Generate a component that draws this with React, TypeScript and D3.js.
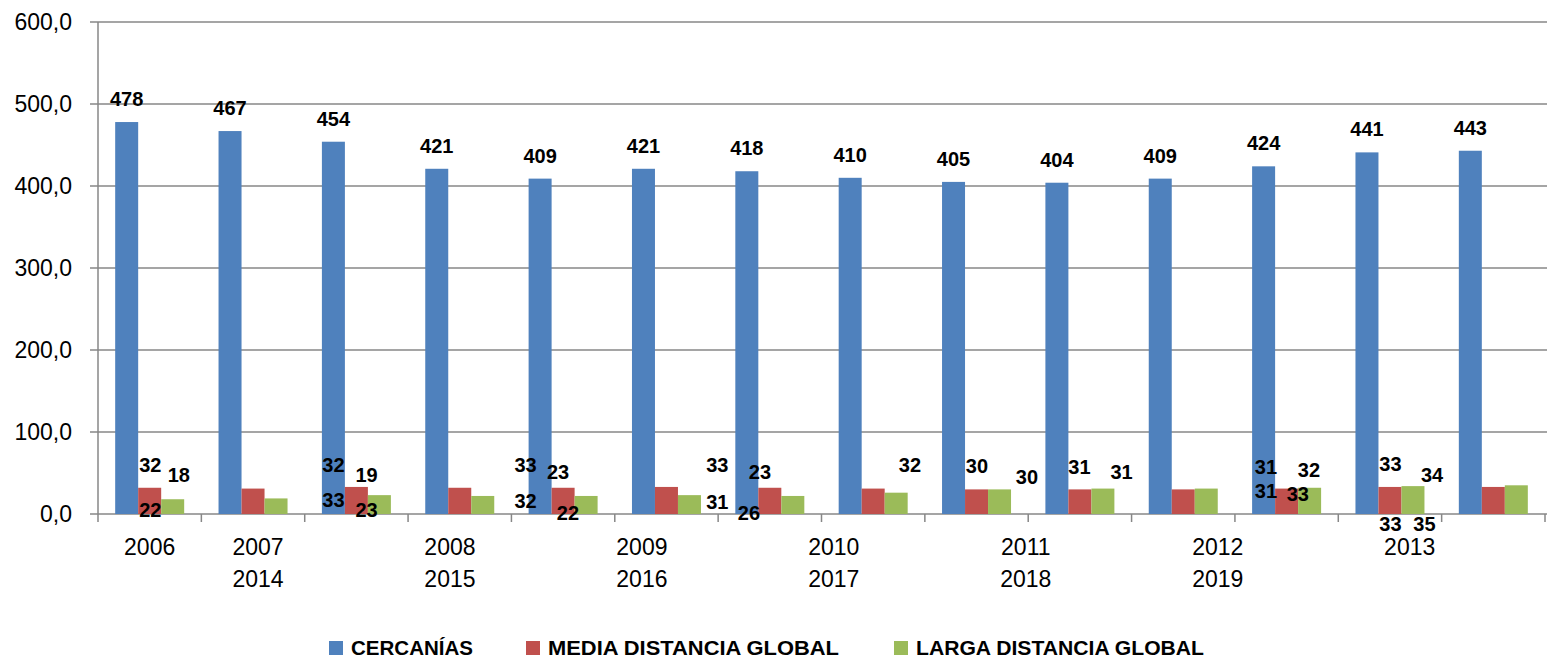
import { useEffect, useRef } from 'react';
import * as d3 from 'd3';

const years = ['2006', '2007', '2008', '2009', '2010', '2011', '2012', '2013', '2014', '2015', '2016', '2017', '2018', '2019'];
const cercanias = [478, 467, 454, 421, 409, 421, 418, 410, 405, 404, 409, 424, 441, 443];
const mediaDistancia = [32, 31, 33, 32, 32, 33, 32, 31, 30, 30, 30, 31, 33, 33];
const largaDistancia = [18, 19, 23, 22, 22, 23, 22, 26, 30, 31, 31, 32, 34, 35];

const seriesNames = ['CERCANÍAS', 'MEDIA DISTANCIA GLOBAL', 'LARGA DISTANCIA GLOBAL'];
const seriesColors = ['#4F81BD', '#C0504D', '#9BBB59'];

const yTicks = [0, 100, 200, 300, 400, 500, 600];

// category labels sit on two rows, the way the original axis shows them
const axisRowTop = ['2006', '2007', '2008', '2009', '2010', '2011', '2012', '2013'];
const axisRowBottom = ['', '2014', '2015', '2016', '2017', '2018', '2019', ''];

// labels of the two small series, left scattered around the bars
// slot: 0 = blue bar, 1 = red, 2 = green (fractions between); level in chart units
const looseLabels = [
  { text: '32', year: '2006', slot: 1.03, level: 60 },
  { text: '18', year: '2006', slot: 2.27, level: 48 },
  { text: '22', year: '2006', slot: 1.03, level: 5 },
  { text: '32', year: '2008', slot: 0, level: 60 },
  { text: '19', year: '2008', slot: 1.44, level: 48 },
  { text: '33', year: '2008', slot: 0, level: 16.5 },
  { text: '23', year: '2008', slot: 1.44, level: 5 },
  { text: '33', year: '2010', slot: -0.63, level: 60 },
  { text: '23', year: '2010', slot: 0.78, level: 51.6 },
  { text: '32', year: '2010', slot: -0.63, level: 15.9 },
  { text: '22', year: '2010', slot: 1.21, level: 1.8 },
  { text: '33', year: '2012', slot: -1.28, level: 60 },
  { text: '31', year: '2012', slot: -1.28, level: 15.2 },
  { text: '23', year: '2012', slot: 0.57, level: 51.6 },
  { text: '26', year: '2012', slot: 0.09, level: 1.2 },
  { text: '32', year: '2013', slot: 2.6, level: 60 },
  { text: '30', year: '2014', slot: 1.02, level: 58.5 },
  { text: '30', year: '2015', slot: -1.3, level: 45.7 },
  { text: '31', year: '2015', slot: 0.98, level: 57.3 },
  { text: '31', year: '2015', slot: 2.81, level: 51.6 },
  { text: '31', year: '2017', slot: 0.1, level: 57.3 },
  { text: '31', year: '2017', slot: 0.1, level: 28.3 },
  { text: '32', year: '2017', slot: 1.97, level: 53.7 },
  { text: '33', year: '2017', slot: 1.49, level: 25 },
  { text: '33', year: '2018', slot: 1.02, level: 61 },
  { text: '34', year: '2018', slot: 2.83, level: 47.6 },
  { text: '33', year: '2018', slot: 1.02, level: -12.8 },
  { text: '35', year: '2018', slot: 2.5, level: -12.8 },
];

const FONT = "'Liberation Sans', Arial, sans-serif";

const App = () => {
  const chartRef = useRef<SVGSVGElement | null>(null);

  useEffect(() => {
    const width = 1547;
    const height = 661;
    const plot = { left: 98, right: 1545, top: 22, bottom: 514 };
    const gridColor = '#878787';

    const svg = d3.select(chartRef.current);
    svg.selectAll('*').remove();
    svg.attr('width', width).attr('height', height);

    const x = d3.scaleBand().domain(years).range([plot.left, plot.right]);
    const x1 = d3
      .scaleBand()
      .domain(seriesNames)
      .range([0, x.bandwidth()])
      .paddingInner(0)
      .paddingOuter(0.747);
    const y = d3.scaleLinear().domain([0, 600]).range([plot.bottom, plot.top]);

    // gridlines + left tick stubs
    svg
      .append('g')
      .selectAll('line')
      .data(yTicks)
      .enter()
      .append('line')
      .attr('x1', plot.left - 8)
      .attr('x2', width)
      .attr('y1', (d) => y(d))
      .attr('y2', (d) => y(d))
      .attr('stroke', gridColor)
      .attr('stroke-width', 1.3);

    // y labels
    svg
      .append('g')
      .selectAll('text')
      .data(yTicks)
      .enter()
      .append('text')
      .attr('x', 72)
      .attr('y', (d) => y(d))
      .attr('dy', '0.35em')
      .attr('text-anchor', 'end')
      .style('font-family', FONT)
      .style('font-size', '23px')
      .attr('fill', '#000')
      .text((d) => d3.format('.1f')(d).replace('.', ','));

    // bars
    const allSeries = [cercanias, mediaDistancia, largaDistancia];
    allSeries.forEach((values, si) => {
      svg
        .append('g')
        .selectAll('rect')
        .data(values)
        .enter()
        .append('rect')
        .attr('x', (_, i) => x(years[i])! + x1(seriesNames[si])!)
        .attr('y', (d) => y(d))
        .attr('width', x1.bandwidth())
        .attr('height', (d) => y(0) - y(d))
        .attr('fill', seriesColors[si]);
    });

    // axes lines
    svg
      .append('line')
      .attr('x1', plot.left)
      .attr('x2', plot.left)
      .attr('y1', plot.top)
      .attr('y2', plot.bottom)
      .attr('stroke', gridColor)
      .attr('stroke-width', 1.5);

    const boundaries = years.map((yr) => x(yr)!).concat([plot.right]);
    svg
      .append('g')
      .selectAll('line')
      .data(boundaries)
      .enter()
      .append('line')
      .attr('x1', (d) => d)
      .attr('x2', (d) => d)
      .attr('y1', plot.bottom)
      .attr('y2', plot.bottom + 8)
      .attr('stroke', gridColor)
      .attr('stroke-width', 1.5);

    // two-row category labels
    const catPos = d3.scaleLinear().domain([0, years.length]).range([plot.left, plot.right]);
    const labelAt = (i: number) => (i === 0 ? catPos(0.5) : catPos(1.548 + ((i - 1) * 13) / 7));
    [axisRowTop, axisRowBottom].forEach((row, r) => {
      svg
        .append('g')
        .selectAll('text')
        .data(row)
        .enter()
        .append('text')
        .attr('x', (_, i) => labelAt(i))
        .attr('y', r === 0 ? 547 : 579)
        .attr('dy', '0.35em')
        .attr('text-anchor', 'middle')
        .style('font-family', FONT)
        .style('font-size', '23px')
        .attr('fill', '#000')
        .text((d) => d);
    });

    // value labels on the blue bars
    svg
      .append('g')
      .selectAll('text')
      .data(cercanias)
      .enter()
      .append('text')
      .attr('x', (_, i) => x(years[i])! + x1(seriesNames[0])! + x1.bandwidth() / 2)
      .attr('y', (d) => y(d) - 23)
      .attr('dy', '0.35em')
      .attr('text-anchor', 'middle')
      .style('font-family', FONT)
      .style('font-size', '20px')
      .style('font-weight', 'bold')
      .attr('fill', '#000')
      .text((d) => d);

    // scattered labels for the small series
    const slotX = (year: string, slot: number) =>
      x(year)! + x1(seriesNames[0])! + x1.step() * (slot + 0.5);
    svg
      .append('g')
      .selectAll('text')
      .data(looseLabels)
      .enter()
      .append('text')
      .attr('x', (d) => slotX(d.year, d.slot))
      .attr('y', (d) => y(d.level))
      .attr('dy', '0.35em')
      .attr('text-anchor', 'middle')
      .style('font-family', FONT)
      .style('font-size', '20px')
      .style('font-weight', 'bold')
      .attr('fill', '#000')
      .text((d) => d.text);

    // legend
    const legendX = [329, 526, 894];
    const legendTextW = [122, 291, 288];
    const legend = svg
      .append('g')
      .selectAll('g')
      .data(seriesNames)
      .enter()
      .append('g')
      .attr('transform', (_, i) => `translate(${legendX[i]},648)`);
    legend
      .append('rect')
      .attr('x', 0)
      .attr('y', -7)
      .attr('width', 14)
      .attr('height', 14)
      .attr('fill', (_, i) => seriesColors[i]);
    legend
      .append('text')
      .attr('x', 22)
      .attr('y', 0)
      .attr('dy', '0.35em')
      .attr('textLength', (_, i) => legendTextW[i])
      .attr('lengthAdjust', 'spacingAndGlyphs')
      .style('font-family', FONT)
      .style('font-size', '21px')
      .style('font-weight', 'bold')
      .attr('fill', '#000')
      .text((d) => d);
  }, []);

  return (
    <svg
      ref={chartRef}
      style={{ position: 'absolute', left: 0, top: 0, background: '#fff', display: 'block' }}
    ></svg>
  );
};

export default App;
